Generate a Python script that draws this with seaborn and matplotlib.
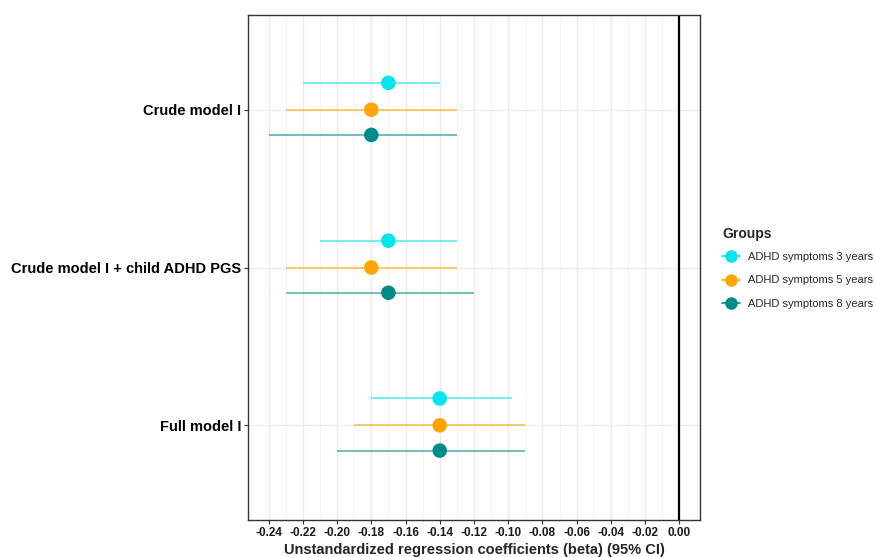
import numpy as np
import pandas as pd
import matplotlib
matplotlib.use("Agg")
import matplotlib.pyplot as plt
import seaborn as sns
from matplotlib.lines import Line2D
from matplotlib.ticker import MultipleLocator

models = ["Crude model I", "Crude model I + child ADHD PGS", "Full model I"]
groups = ["ADHD symptoms 3 years", "ADHD symptoms 5 years", "ADHD symptoms 8 years"]
beta_3y = [-0.17, -0.17, -0.14]
low_3y = [-0.22, -0.21, -0.18]
high_3y = [-0.14, -0.13, -0.098]
beta_5y = [-0.18, -0.18, -0.14]
low_5y = [-0.23, -0.23, -0.19]
high_5y = [-0.13, -0.13, -0.09]
beta_8y = [-0.18, -0.17, -0.14]
low_8y = [-0.24, -0.23, -0.20]
high_8y = [-0.13, -0.12, -0.09]
xticks = [-0.24, -0.22, -0.20, -0.18, -0.16, -0.14, -0.12, -0.10, -0.08, -0.06, -0.04, -0.02, 0.00]

colors = ["#00E5EE", "#FFA500", "#008B8B"]
offsets = [-0.17, 0.0, 0.16]

rows = []
for g, b, lo, hi in zip(groups, [beta_3y, beta_5y, beta_8y], [low_3y, low_5y, low_8y], [high_3y, high_5y, high_8y]):
    for m, bb, l, h in zip(models, b, lo, hi):
        rows.append(dict(model=m, group=g, beta=bb, low=l, high=h))
df = pd.DataFrame(rows)
df["ypos"] = df["model"].map({m: i for i, m in enumerate(models)}) + df["group"].map(dict(zip(groups, offsets)))

sns.set_theme(style="white")
plt.rcParams["font.family"] = ["Liberation Sans", "DejaVu Sans"]

fig = plt.figure(figsize=(8.76, 5.57), dpi=100)
ax = fig.add_axes([248 / 876, 1 - 520 / 557, (700 - 248) / 876, (520 - 15) / 557])

# grid
ax.xaxis.set_major_locator(MultipleLocator(0.02))
ax.xaxis.set_minor_locator(MultipleLocator(0.01))
ax.grid(which="major", axis="both", color="#EBEBEB", linewidth=1.0, zorder=0)
ax.grid(which="minor", axis="x", color="#F2F2F2", linewidth=0.6, zorder=0)
ax.set_axisbelow(True)

for g, c in zip(groups, colors):
    sub = df[df["group"] == g]
    ax.hlines(sub["ypos"], sub["low"], sub["high"], color=c, alpha=0.65, linewidth=1.2, zorder=2)

sns.scatterplot(data=df, x="beta", y="ypos", hue="group", hue_order=groups, palette=colors,
                s=110, edgecolor="none", legend=False, ax=ax, zorder=3)

ax.axvline(0, color="black", linewidth=1.6, zorder=1)

ax.set_xlim(-0.252, 0.012)
ax.set_ylim(2.6, -0.6)
ax.set_xticks(xticks)
ax.set_xticklabels([f"{t:.2f}" for t in xticks], fontsize=8.5, fontweight="bold", color="#1a1a1a")
ax.set_yticks(range(len(models)))
ax.set_yticklabels(models, fontsize=10.5, fontweight="bold", color="black")
ax.tick_params(axis="both", which="major", length=3, width=0.8, color="#333333", pad=2, bottom=True, left=True)
ax.tick_params(axis="x", which="minor", length=0)
ax.set_xlabel("Unstandardized regression coefficients (beta) (95% CI)", fontsize=10.5, fontweight="bold", labelpad=3)
ax.set_ylabel("")
for s in ax.spines.values():
    s.set_color("#333333")
    s.set_linewidth(1.0)

handles = [Line2D([0], [0], color=c, marker="o", markersize=9, linewidth=1.2, markeredgewidth=0) for c in colors]
leg = fig.legend(handles, groups, title="Groups", loc="upper left", bbox_to_anchor=(712 / 876, 1 - 217 / 557),
                 frameon=False, fontsize=8, title_fontproperties={"weight": "bold", "size": 10},
                 handlelength=1.6, handletextpad=0.7, labelspacing=1.2, alignment="left")
leg._legend_box.sep = 8

fig.savefig("out.png", dpi=100)
